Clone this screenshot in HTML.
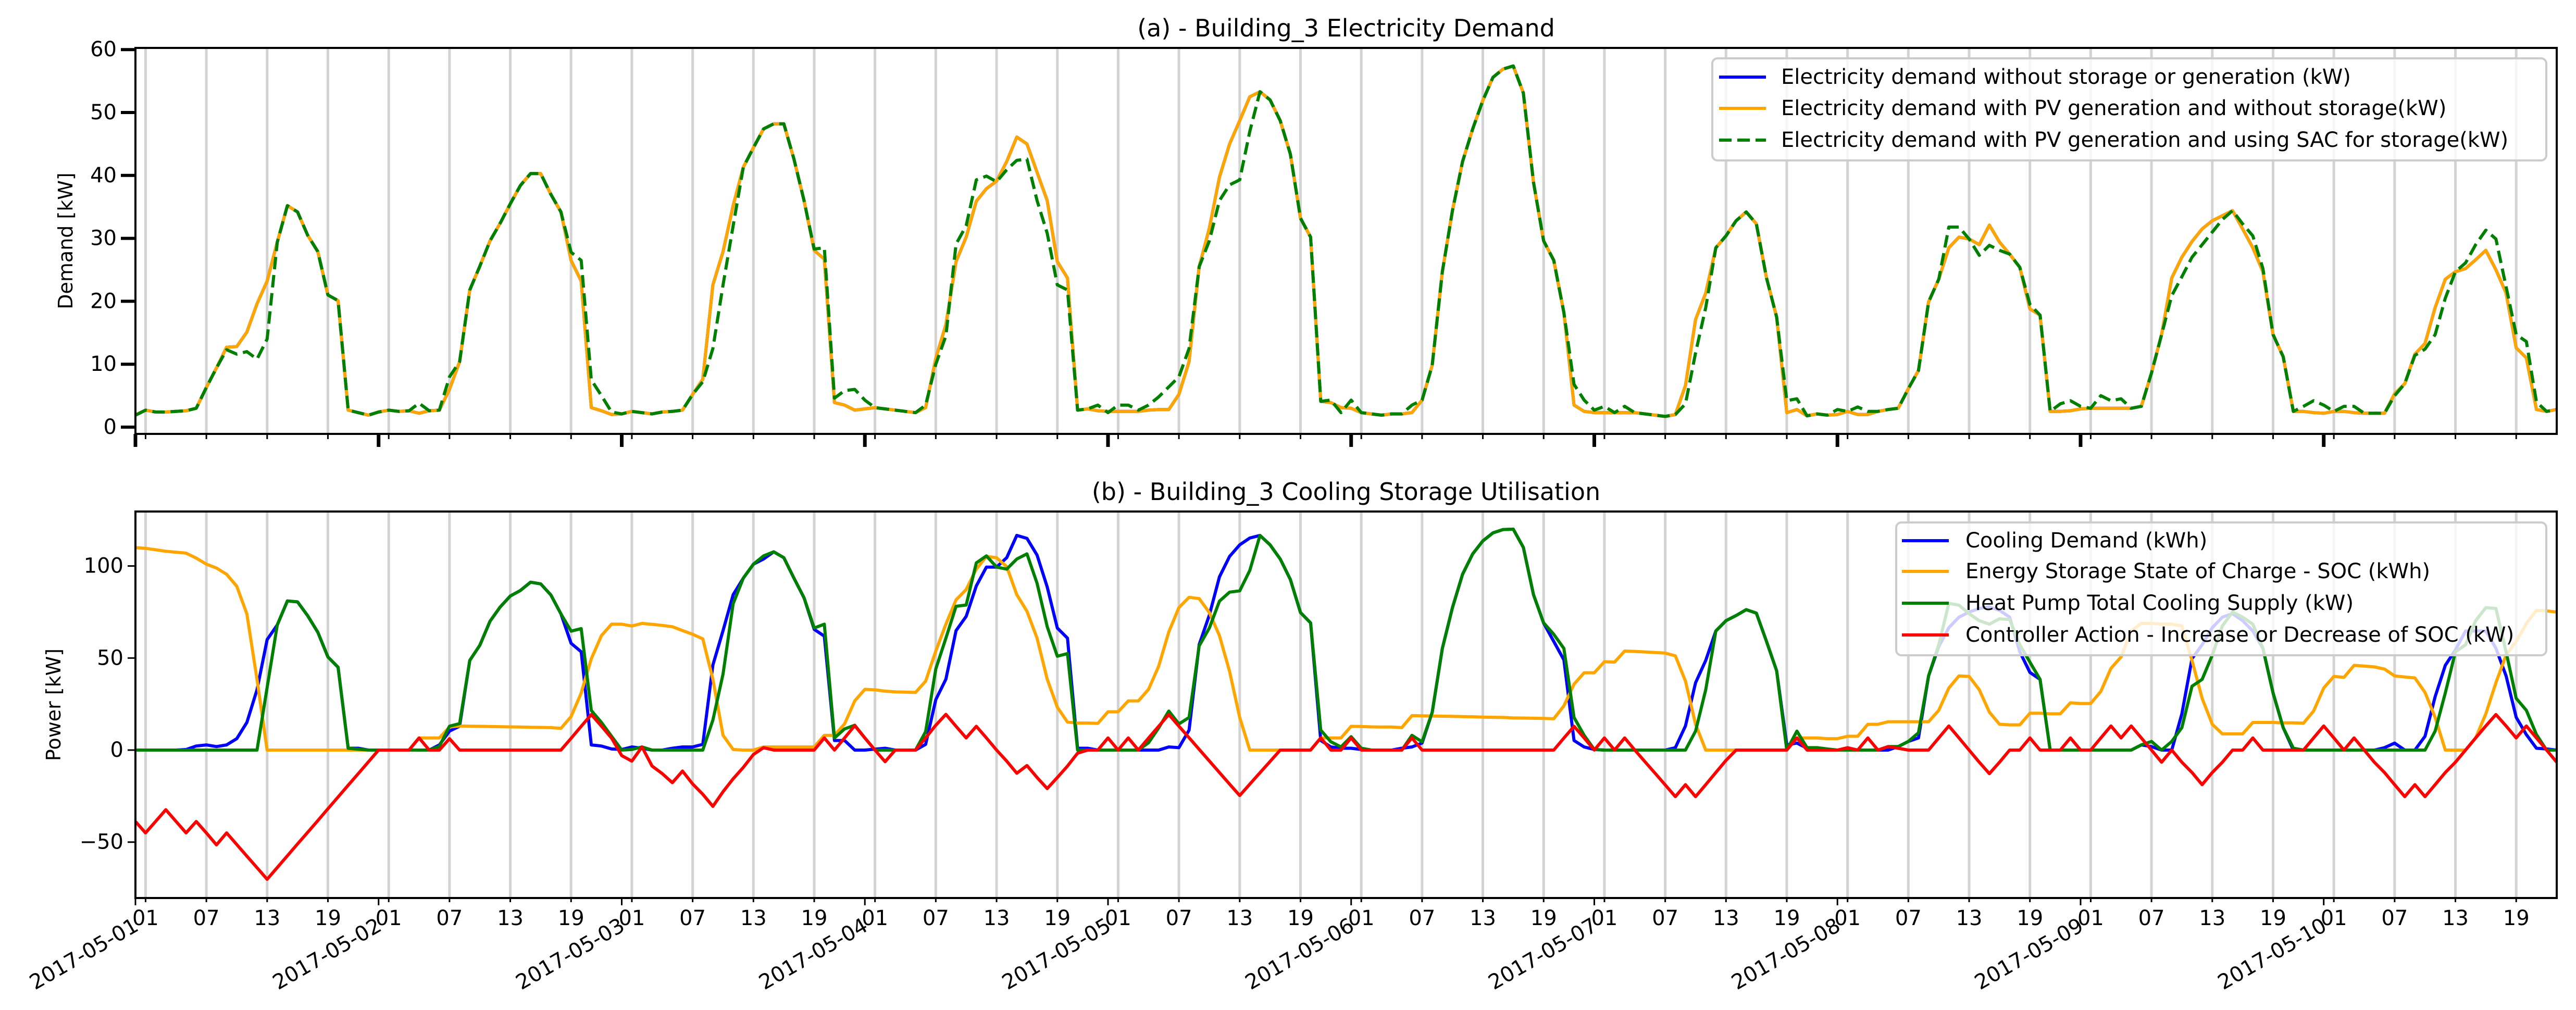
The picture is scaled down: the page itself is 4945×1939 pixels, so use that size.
<!DOCTYPE html>
<html><head><meta charset="utf-8">
<style>
html,body{margin:0;padding:0;background:#fff;}
svg{display:block;font-family:"DejaVu Sans","Liberation Sans",sans-serif;}
</style></head>
<body>
<svg id="chart" xmlns="http://www.w3.org/2000/svg" width="4945" height="1939" viewBox="0 0 4945 1939">
<rect x="0" y="0" width="4945" height="1939" fill="#fff"/>
<g id="top"></g>
<g id="bot"></g>
</svg>
<script>
// ---- data (hourly, 2017-05-01 00:00 .. 2017-05-10 23:00) ----
const dayLabels = ["2017-05-01","2017-05-02","2017-05-03","2017-05-04","2017-05-05","2017-05-06","2017-05-07","2017-05-08","2017-05-09","2017-05-10"];
const hourTickLabels = ["01","07","13","19"];
const hourTicks = [1,7,13,19];
const topYTicks = [0,10,20,30,40,50,60];
const botYTicks = [-50,0,50,100];

const demandPV = [
1.9,2.7,2.4,2.4,2.5,2.6,3.0,6.3,9.4,12.7,12.8,15.1,19.6,23.2,29.4,35.2,34.2,30.5,27.9,21,20.1,2.7,2.3,1.9,
2.4,2.7,2.5,2.6,2.2,2.6,2.7,6,10.4,21.8,25.6,29.6,32.4,35.5,38.4,40.3,40.3,37,34.2,26.5,23.2,3.1,2.6,2.0,
2.1,2.5,2.3,2.1,2.4,2.5,2.7,5.2,7.6,22.6,27.9,35.2,41.3,44.4,47.4,48.2,48.2,42.6,36,28.1,26.7,3.9,3.5,2.7,
2.9,3.1,2.9,2.7,2.5,2.3,3.1,10.9,16.3,26.3,30.2,35.9,37.9,39.1,42.2,46.1,45,40.5,36,26.3,23.7,2.7,2.9,2.6,
2.5,2.5,2.5,2.5,2.7,2.8,2.8,5.2,10.4,25.5,31.6,39.7,45,48.7,52.5,53.3,52,48.7,43.4,33.2,30.2,4.1,3.9,3.1,
3.0,2.3,2.1,1.9,2.1,2.1,2.3,4.3,9.8,24.7,34.4,42.2,47.4,51.9,55.6,56.9,57.4,53.1,38.9,29.6,26.5,18.2,3.5,2.5,
2.3,2.3,2.3,2.3,2.3,2.1,1.9,1.7,2.0,6.6,17.1,21.3,28.5,30.4,32.8,34.2,32.3,23.7,17.5,2.3,2.8,1.8,2.1,1.9,
2.0,2.5,2.0,2.0,2.5,2.8,3.0,6.1,9.0,19.9,23.5,28.5,30.2,29.9,29,32.1,29.4,27.5,25.4,18.8,17.8,2.5,2.5,2.6,
2.9,3.0,3.0,3.0,3.0,3.0,3.3,8.6,14.7,23.7,27,29.5,31.5,32.8,33.6,34.4,31.5,28.5,24.7,14.7,11.2,2.5,2.5,2.3,
2.2,2.5,2.5,2.3,2.2,2.2,2.2,5.3,6.9,11.6,13.3,19,23.5,24.7,25.2,26.6,28.1,25,21.3,12.6,11.0,2.8,2.5,2.8];
const demandBase = demandPV.slice();
const demandSAC = [
1.9,2.7,2.4,2.4,2.5,2.6,3.0,6.3,9.4,12.3,11.6,12.0,10.8,14,29.4,35.2,34.2,30.5,27.9,21,20.1,2.7,2.3,1.9,
2.4,2.7,2.5,2.6,3.8,2.6,2.7,8,10.4,21.8,25.6,29.6,32.4,35.5,38.4,40.3,40.3,37,34.2,27.8,26.5,7.5,5,2.4,
2.1,2.5,2.3,2.1,2.4,2.5,2.7,5.2,7.2,12.5,22.6,32,41.3,44.4,47.4,48.2,48.2,42.6,36,28.3,28.5,4.6,5.8,6.0,
4.3,3.1,2.9,2.7,2.5,2.3,3.5,10,14.5,29.1,32,39.3,39.9,39,40.9,42.4,42.6,36,30.8,22.6,21.8,2.7,2.9,3.5,
2.3,3.5,3.5,2.7,3.5,4.8,6.4,8,12.5,25.5,29.6,36,38.5,39.3,47,53.3,52,48.7,43.4,33.2,30.2,4.1,4.3,2.3,
4.3,2.3,2.1,1.9,2.1,2.1,3.5,4.3,9.8,24.7,34.4,42.2,47.4,51.9,55.6,56.9,57.4,53.1,38.9,29.6,26.5,18.2,6.8,4.3,
2.7,3.3,2.3,3.3,2.3,2.1,1.9,1.7,2.0,3.7,11.8,19.0,28.5,30.4,32.8,34.2,32.3,23.7,17.5,4.2,4.5,1.8,2.1,1.9,
2.8,2.5,3.2,2.5,2.5,2.8,3.0,6.1,9.0,19.9,23.5,31.8,31.8,29.9,27.3,28.9,28.1,27.5,25.4,19.5,17.8,2.5,3.7,4.2,
3.3,3.0,5.0,4.2,4.5,3.0,3.3,8.6,14.7,20.9,23.9,27,29,31,33,34.4,32.3,30.4,25.2,14.7,11.2,2.5,3.3,4.2,
3.5,2.5,3.3,3.3,2.2,2.2,2.2,5.0,6.9,11.4,12.4,14.7,20.5,24.7,26.1,29,31.3,29.9,22.3,14.7,13.6,4.0,2.5,2.8];

const coolingDemand = [
0,0,0,0,0,0.3,2.2,2.8,1.9,2.8,6.2,15,32.8,60,68,81,80.5,73,64,50.6,45,1,1,0,
0,0,0,0,0,0,2.8,10.3,13,48.7,57,70,77.7,83.7,86.7,91.2,90.3,84.3,74,58,53.4,2.8,2.2,0.6,
0.3,1.7,1,0,0,1,1.7,1.7,3.1,46.2,64.9,84.4,93.4,101,103.8,107.7,104.5,93.4,82.7,65.6,61.9,5.2,5.2,0,
0,0.5,1,0,0,0,3.1,27.4,38.5,64.9,72.6,89.2,99.4,99.4,104.5,116.6,115,105.9,88.6,66.3,60.8,1,1,0,
0,0,0,0,0,0,1.7,1.3,10.8,57.3,73.3,94.1,105.2,111.5,115.2,116.6,111.5,103.8,92.7,74.7,69.1,5.2,1.7,1,
1,0.3,0,0,0,1,1.7,3.8,20.5,55.2,77.4,95.5,106.6,113.6,118,119.8,120,110.1,84.4,69,59,49,5.2,1.7,
0.3,0,0,0,0,0,0,0,1.3,13.1,36.6,48.7,64.7,70.3,73.1,76.3,74.4,59,43.1,2.8,3.8,1,0,0,
0,0,0,0,0,0,1.9,4.7,6.6,40.3,56.2,66.5,72.2,75,76.9,77.8,75.9,72.2,53.4,42.2,38.4,0,0,0,
0,0,0,0,0,0,2.8,1.9,0,0,19.7,49.7,57.2,66.5,72.2,74.1,70.3,64.7,55.3,31,12.2,0,0,0,
0,0,0,0,0,0,1.3,3.8,0,0,7.5,29,46,54.4,64.7,64.7,64.7,55.3,40.3,17.8,8.4,1,0.6,0];
const storageSOC = [
110,109.6,108.8,108,107.5,107,104.3,101,98.9,95.5,89,74,38.4,0,0,0,0,0,0,0,0,0,0,0,
0,0,0,0,6.6,6.6,6.6,12.5,13.1,13,12.9,12.8,12.7,12.6,12.5,12.4,12.3,12.2,11.8,18.2,31,49.6,62.2,68.4,
68.4,67.4,68.8,68.3,67.7,67,64.9,62.9,60.4,38.5,8,0.3,0,0,1.7,1.7,1.7,1.7,1.7,1.7,8,8,14.2,26.7,
33,32.7,32,31.6,31.5,31.3,37.4,53.8,68.4,81.6,87.2,98.3,105.2,104.5,99.7,84.4,75.4,60.8,38.5,23.3,15.2,14.7,14.7,14.5,
20.8,20.8,26.7,26.7,33,45.5,64.2,77.4,83,82.3,74.7,62.2,42.7,17.7,0,0,0,0,0,0,0,6.6,6.6,6.6,
12.9,12.8,12.6,12.5,12.5,12.2,18.7,18.6,18.5,18.4,18.3,18.2,18.1,17.9,17.8,17.7,17.5,17.4,17.3,17.2,17,24,35.8,42,
42,48,47.8,53.8,53.6,53.3,53,52.7,51.2,37.5,14,0,0,0,0,0,0,0,0,0,6.6,6.6,6.6,6.2,
6.2,7.5,7.5,14,14,15.4,15.4,15.4,15.4,15.4,21.6,33.7,40.3,40,32.8,20.6,14,13.7,13.7,20,20,19.7,19.7,25.7,
25.3,25.3,31.9,44.4,50.6,64.7,68.8,68.8,68.4,68.4,67.5,48.7,28.1,14,8.8,8.8,8.8,15,15,15,14.8,14.8,14.6,21.2,
33.7,40,39.5,46,45.6,45.2,44,40.3,39.7,39.2,31.3,17.8,0,0,0,6.6,19.7,36.6,51.6,59,68.8,75.9,75.6,75];
const heatPumpSupply = [
0,0,0,0,0,0,0,0,0,0,0,0,0,34,68,81,80.5,73,64,50.6,45,1,0.5,0,
0,0,0,0,0,0,2,13,14.4,48.7,57,70,77.7,83.7,86.7,91.2,90.3,84.3,74,64.6,66,21.5,15,7.5,
0,0.3,1.7,0,0,0,0,0,0,16.3,41.3,79.5,93.4,101,105.5,107.7,104.5,93.4,82.7,66.3,68.4,6.6,11.5,13.5,
6.6,0,0,0,0,0,10,44.1,60.8,78.1,78.8,101.7,105.5,99.4,98.3,103.8,106.6,90.6,67,51,52.4,0,0,0,
0,0,0,0,4,12,21.2,14.2,17.7,56.6,66.3,80.9,85.8,86.5,97.6,116.6,111.5,103.8,92.7,74.7,69.1,10.8,4.5,1.7,
7.3,1,0,0,0,0,8,4.5,20.5,55.2,77.4,95.5,106.6,113.6,118,119.8,120,110.1,84.4,69.1,62.9,55.2,17.7,8,
0.3,0,0,0,0,0,0,0,0,0,10.3,32.8,64.7,70.3,73.1,76.3,74.4,59,43.1,0,10.3,1.3,1.3,0.6,
0,0,0,0,0,1.9,1.9,4.7,9.4,40.3,57.2,79.7,78.7,74.1,70.3,68.4,71.3,70.9,57.2,47.8,38.4,0,0,0,
0,0,0,0,0,0,2.8,4.7,0,4.7,12.2,34.7,38.4,51.6,67.5,75,72.2,68.4,55.3,31,12.2,1,0,0,
0,0,0,0,0,0,0,0,0,0,0,10.3,31,53.4,57.2,70.3,77.4,76.9,53.4,28.1,21.6,8.4,0,0];
const controllerAction = [
-38.8,-45,-38.7,-32.4,-38.7,-45,-38.8,-45,-51.5,-45,-51.3,-57.6,-63.9,-70.2,-63.8,-57.4,-51,-44.7,-38.3,-31.9,-25.5,-19.1,-12.8,-6.4,
0,0,0,0,6.6,0,0,6.2,0,0,0,0,0,0,0,0,0,0,0,6.4,12.9,19.3,13,6.5,
-3,-6,1.7,-8.7,-12.8,-17.7,-11.4,-18.4,-24,-30.6,-22.6,-15.6,-9.4,-2.4,1.3,0,0,0,0,0,6.6,0,6.6,13.3,
6.6,0,-6.3,0,0,0,6.6,13.5,19.4,12.9,6.6,12.9,6.6,0,-6,-12.6,-8.4,-14.9,-20.9,-14.9,-8.7,-1.7,0,0,
6.6,0,6.6,0,6.5,12.9,19.3,13,6.7,0.4,-5.9,-12.2,-18.5,-24.7,-18.5,-12.3,-6.2,0,0,0,0,6.6,0,0,
6.6,0,0,0,0,0,6.6,0,0,0,0,0,0,0,0,0,0,0,0,0,0,6.5,12.9,6.6,
0,6.6,0,6.6,0,-6.3,-12.6,-18.9,-25.3,-18.8,-25.3,-18.8,-12.2,-5.6,0,0,0,0,0,0,6.6,0,0,0,
0,1.3,0,6.6,0,1.9,1,0,0,0,6.6,13.1,6.6,0,-6.6,-12.8,-6.6,0,0,6.6,0,0,0,6.6,
0,0,6.6,13.1,6.6,13.1,6.6,0,-6.6,0,-6.6,-12.2,-18.8,-12.2,-6.6,0,0,6.6,0,0,0,0,0,6.6,
13.1,6.6,0,6.6,0,-6.6,-12.2,-18.8,-25.3,-18.8,-25.3,-18.8,-12.2,-6.6,0,6.6,13.1,19.3,13.1,6.6,13.1,6.6,0,-6.6];

// ---- geometry ----
const NS = "http://www.w3.org/2000/svg";
const X0 = 260, HOUR = (4908 - 260) / 239, NH = 240;
const X1 = X0 + HOUR * (NH - 1);
function xS(h){ return X0 + h * HOUR; }
function yTop(v){ return 820 - 12.08 * v; }
function yBot(v){ return 1440 - 3.534 * v; }
const TOP = {y0: 92, y1: 833}, BOT = {y0: 982, y1: 1724};

function mk(parent, tag, attrs, text){
  const el = document.createElementNS(NS, tag);
  for (const k in attrs) el.setAttribute(k, attrs[k]);
  if (text !== undefined) el.textContent = text;
  parent.appendChild(el);
  return el;
}
function pathFrom(arr, ys){
  let d = "";
  for (let i = 0; i < arr.length; i++) d += (i ? "L" : "M") + xS(i).toFixed(1) + "," + ys(arr[i]).toFixed(1);
  return d;
}

function drawPanel(g, box, ys, yticks, yTickLen, showHourLabels, title, ylabel, ylabelX){
  const nDays = dayLabels.length;
  // grid
  for (let d = 0; d < nDays; d++) for (const hh of hourTicks){
    const h = d * 24 + hh; if (h > NH - 1) continue;
    const gl = mk(g, "line", {x1: xS(h), x2: xS(h), y1: box.y0, y2: box.y1, stroke: "#d3d3d3", "stroke-width": 5});
    
    
  }
  // title
  const t = mk(g, "text", {x: (X0 + X1) / 2, y: box.y0 - 22, "text-anchor": "middle", "font-size": 46, fill: "#000"}, title);
  
  
  // y label
  const yl = mk(g, "text", {x: 0, y: 0, "text-anchor": "middle", "font-size": 38, fill: "#000",
    transform: "translate(" + ylabelX + "," + ((box.y0 + box.y1) / 2) + ") rotate(-90)", "dominant-baseline": "central"}, ylabel);
  
  
  // y ticks
  for (const v of yticks){
    const y = ys(v);
    const tk = mk(g, "line", {x1: X0 - yTickLen, x2: X0, y1: y, y2: y, stroke: "#000", "stroke-width": yTickLen > 20 ? 6 : 3});
    
    
    const lb = mk(g, "text", {x: X0 - yTickLen - 8, y: y, "text-anchor": "end", "dominant-baseline": "central", "font-size": 40, fill: "#000"}, v < 0 ? "\u2212" + Math.abs(v) : String(v));
    
    
  }
  // x ticks
  for (let d = 0; d < nDays; d++){
    const xd = xS(d * 24);
    const major = mk(g, "line", {x1: xd, x2: xd, y1: box.y1, y2: box.y1 + (showHourLabels ? 14 : 25), stroke: "#000", "stroke-width": showHourLabels ? 3 : 7});
    
    
    for (let k = 0; k < hourTicks.length; k++){
      const h = d * 24 + hourTicks[k]; if (h > NH - 1) continue;
      const mt = mk(g, "line", {x1: xS(h), x2: xS(h), y1: box.y1, y2: box.y1 + (showHourLabels ? 8 : 10), stroke: "#000", "stroke-width": 3});
      
      
      if (showHourLabels){
        const hl = mk(g, "text", {x: xS(h), y: box.y1 + 52, "text-anchor": "middle", "font-size": 40, fill: "#000"}, hourTickLabels[k]);
        
        
      }
    }
    if (showHourLabels){
      const dl = mk(g, "text", {x: 0, y: 0, "text-anchor": "end", "dominant-baseline": "hanging", "font-size": 40, fill: "#000",
        transform: "translate(" + (xd - 6) + "," + (box.y1 + 36) + ") rotate(-30)"}, dayLabels[d]);
      
      
    }
  }
}

function addSeries(g, arr, ys, color, name, dash){
  const attrs = {d: pathFrom(arr, ys), fill: "none", stroke: color, "stroke-width": 6, "stroke-linejoin": "round"};
  if (dash) attrs["stroke-dasharray"] = dash;
  const p = mk(g, "path", attrs);
  
  
}

function frame(g, box){
  const f = mk(g, "rect", {x: X0, y: box.y0, width: X1 - X0, height: box.y1 - box.y0, fill: "none", stroke: "#000", "stroke-width": 4});
  
  
}

function legend(g, bx, by, bw, bh, rows, lineX, textX, rowY){
  const lg = mk(g, "g", {});
  
  
  const r = mk(lg, "rect", {x: bx, y: by, width: bw, height: bh, rx: 10, fill: "#fff", "fill-opacity": 0.8, stroke: "#cccccc", "stroke-width": 4});
  
  
  rows.forEach((row, i) => {
    const y = rowY[i];
    const ln = mk(lg, "line", {x1: lineX, x2: lineX + 90, y1: y, y2: y, stroke: row.c, "stroke-width": 6});
    if (row.dash) ln.setAttribute("stroke-dasharray", row.dash);
    
    
    const tx = mk(lg, "text", {x: textX, y: y, "dominant-baseline": "central", "font-size": 40, fill: "#000"}, row.t);
    
    
  });
}

const gTop = document.getElementById("top");
const gBot = document.getElementById("bot");

drawPanel(gTop, TOP, yTop, topYTicks, 28, false, "(a) - Building_3 Electricity Demand", "Demand [kW]", 126);
addSeries(gTop, demandBase, yTop, "#0000ff", "line-demand-no-storage");
addSeries(gTop, demandPV, yTop, "#ffa500", "line-demand-pv");
addSeries(gTop, demandSAC, yTop, "#008000", "line-demand-pv-sac", "24 11");
frame(gTop, TOP);
legend(gTop, 3287, 112, 1601, 196, [
  {c: "#0000ff", t: "Electricity demand without storage or generation (kW)"},
  {c: "#ffa500", t: "Electricity demand with PV generation and without storage(kW)"},
  {c: "#008000", t: "Electricity demand with PV generation and using SAC for storage(kW)", dash: "24 11"}
], 3300, 3419, [148, 208, 269]);

drawPanel(gBot, BOT, yBot, botYTicks, 15, true, "(b) - Building_3 Cooling Storage Utilisation", "Power [kW]", 103);
addSeries(gBot, coolingDemand, yBot, "#0000ff", "line-cooling-demand");
addSeries(gBot, storageSOC, yBot, "#ffa500", "line-storage-soc");
addSeries(gBot, heatPumpSupply, yBot, "#008000", "line-heat-pump-supply");
addSeries(gBot, controllerAction, yBot, "#ff0000", "line-controller-action");
frame(gBot, BOT);
legend(gBot, 3640, 1003, 1248, 255, [
  {c: "#0000ff", t: "Cooling Demand (kWh)"},
  {c: "#ffa500", t: "Energy Storage State of Charge - SOC (kWh)"},
  {c: "#008000", t: "Heat Pump Total Cooling Supply (kW)"},
  {c: "#ff0000", t: "Controller Action - Increase or Decrease of SOC (kW)"}
], 3651, 3773, [1038, 1097, 1158, 1219]);
</script>
</body></html>
